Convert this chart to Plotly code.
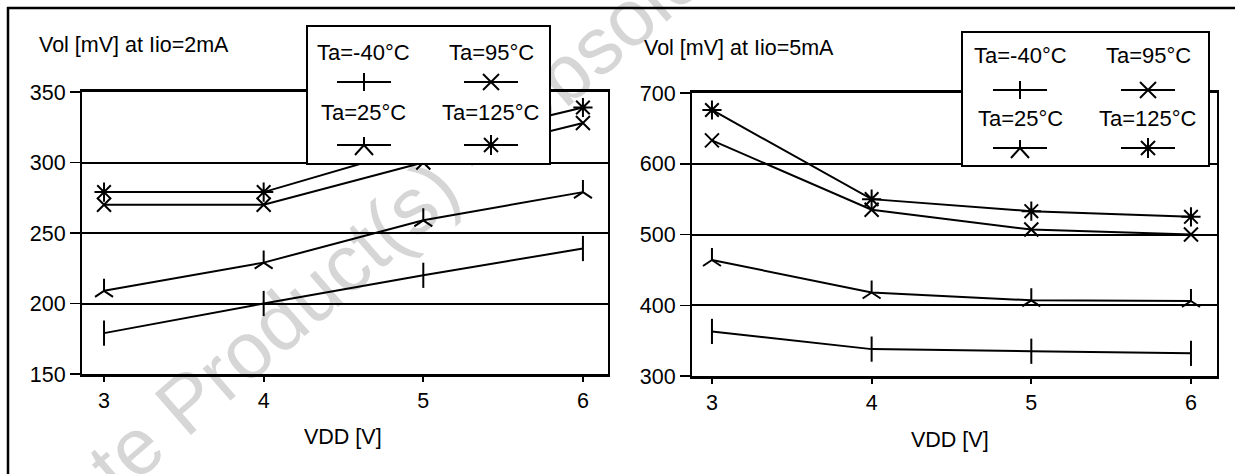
import plotly.graph_objects as go

W, H = 1235, 474

# ---------------- data ----------------
VDD = [3, 4, 5, 6]
temp_labels = ["Ta=-40°C", "Ta=25°C", "Ta=95°C", "Ta=125°C"]

vol_2mA_m40 = [179, 200, 220, 239]
vol_2mA_25 = [209, 229, 259, 279]
vol_2mA_95 = [270, 270, 300, 328]
vol_2mA_125 = [279, 279, 312, 339]

vol_5mA_m40 = [363, 338, 335, 332]
vol_5mA_25 = [464, 418, 407, 406]
vol_5mA_95 = [633, 535, 507, 500]
vol_5mA_125 = [676, 550, 533, 525]

yticks_2mA = [150, 200, 250, 300, 350]
yticks_5mA = [300, 400, 500, 600, 700]

# ---------------- styling ----------------
FONT = "Liberation Sans, Arial, sans-serif"
symbols = ["line-ns-open", "y-up-open", "x-thin-open", "asterisk-open"]
msizes = [18, 15, 14, 16]


def PX(x):
    return x / W


def PY(y):
    return 1 - y / H


fig = go.Figure()

left_series = [vol_2mA_m40, vol_2mA_25, vol_2mA_95, vol_2mA_125]
right_series = [vol_5mA_m40, vol_5mA_25, vol_5mA_95, vol_5mA_125]

for series, xa, ya in [(left_series, "x", "y"), (right_series, "x2", "y2")]:
    for i, vals in enumerate(series):
        fig.add_trace(go.Scatter(
            x=VDD, y=vals, xaxis=xa, yaxis=ya, mode="lines+markers",
            name=temp_labels[i], showlegend=False, hoverinfo="skip",
            line=dict(color="black", width=2),
            marker=dict(symbol=symbols[i], size=msizes[i], color="black",
                        line=dict(color="black", width=2)),
        ))

xcommon = dict(tickvals=VDD, ticks="outside", ticklen=5, tickwidth=2, tickcolor="black",
               showline=True, linecolor="black", linewidth=3, mirror=True,
               showgrid=False, zeroline=False, automargin=False,
               tickfont=dict(family=FONT, size=21.5, color="black"), ticklabelstandoff=0)
ycommon = dict(ticks="outside", ticklen=10, tickwidth=1.5, tickcolor="black",
               showline=True, linecolor="black", linewidth=2, mirror=True,
               showgrid=True, gridcolor="black", gridwidth=2, zeroline=False, automargin=False,
               tickfont=dict(family=FONT, size=21.5, color="black"), ticklabelstandoff=0)

fig.update_layout(
    template="none",
    width=W, height=H,
    margin=dict(l=0, r=0, t=0, b=0, pad=0, autoexpand=False),
    paper_bgcolor="white", plot_bgcolor="rgba(0,0,0,0)",
    showlegend=False,
    xaxis=dict(domain=[PX(82), PX(608)], range=[2.862, 6.157], anchor="y", **xcommon),
    yaxis=dict(domain=[PY(374), PY(92)], range=[150, 350], tickvals=yticks_2mA, anchor="x", **ycommon),
    xaxis2=dict(domain=[PX(692), PX(1217)], range=[2.875, 6.163], anchor="y2", **xcommon),
    yaxis2=dict(domain=[PY(376), PY(93)], range=[300, 700], tickvals=yticks_5mA, anchor="x2", **ycommon),
)

shapes = []
annotations = []

# watermark behind everything
shapes.append(dict(type="line", xref="paper", yref="paper",
                   x0=PX(463), y0=PY(152), x1=PX(473), y1=PY(142),
                   line=dict(color="rgba(0,0,0,0)", width=0), layer="below",
                   label=dict(text="Obsolete Product(s) - Obsolete Product(s)",
                              textangle=-41, textposition="middle",
                              xanchor="center", yanchor="middle",
                              font=dict(family=FONT, size=80, color="#d6d6d6"))))

# outer frame
shapes.append(dict(type="line", xref="paper", yref="paper", x0=PX(7), y0=PY(8), x1=1, y1=PY(8),
                   line=dict(color="black", width=2.5), layer="above"))
shapes.append(dict(type="line", xref="paper", yref="paper", x0=PX(8), y0=PY(7), x1=PX(8), y1=0,
                   line=dict(color="black", width=2.5), layer="above"))

TXT = 22
# titles
annotations.append(dict(text="Vol [mV] at Iio=2mA", x=PX(37), y=PY(45), xref="paper", yref="paper",
                        xanchor="left", yanchor="middle", showarrow=False,
                        font=dict(family=FONT, size=21.5, color="black")))
annotations.append(dict(text="Vol [mV] at Iio=5mA", x=PX(642), y=PY(48), xref="paper", yref="paper",
                        xanchor="left", yanchor="middle", showarrow=False,
                        font=dict(family=FONT, size=21.5, color="black")))
annotations.append(dict(text="VDD [V]", x=PX(343), y=PY(437), xref="paper", yref="paper",
                        xanchor="center", yanchor="middle", showarrow=False,
                        font=dict(family=FONT, size=21.5, color="black")))
annotations.append(dict(text="VDD [V]", x=PX(950), y=PY(440), xref="paper", yref="paper",
                        xanchor="center", yanchor="middle", showarrow=False,
                        font=dict(family=FONT, size=21.5, color="black")))


def seg(x0, y0, x1, y1, w=2):
    return dict(type="line", xref="paper", yref="paper", x0=PX(x0), y0=PY(y0), x1=PX(x1), y1=PY(y1),
                line=dict(color="black", width=w), layer="above")


def glyph(cx, cy, kind):
    out = [seg(cx - 27, cy, cx + 27, cy)]
    if kind == 0:
        out.append(seg(cx, cy - 9, cx, cy + 9))
    elif kind == 1:
        out.append(seg(cx, cy, cx, cy - 8))
        out.append(seg(cx, cy, cx - 9, cy + 10))
        out.append(seg(cx, cy, cx + 9, cy + 10))
    elif kind == 2:
        out.append(seg(cx - 8, cy - 8, cx + 8, cy + 8))
        out.append(seg(cx - 8, cy + 8, cx + 8, cy - 8))
    else:
        out.append(seg(cx - 7, cy - 7, cx + 7, cy + 7))
        out.append(seg(cx - 7, cy + 7, cx + 7, cy - 7))
        out.append(seg(cx, cy - 10, cx, cy + 10))
    return out


def legend_box(x0, y0, x1, y1, cols, rows_text, rows_glyph):
    shapes.append(dict(type="rect", xref="paper", yref="paper", x0=PX(x0), y0=PY(y0), x1=PX(x1), y1=PY(y1),
                       fillcolor="white", line=dict(color="black", width=2), layer="above"))
    order = [[0, 2], [1, 3]]
    for r in range(2):
        for c in range(2):
            k = order[r][c]
            annotations.append(dict(text=temp_labels[k], x=PX(cols[c]), y=PY(rows_text[r]),
                                    xref="paper", yref="paper", xanchor="center", yanchor="middle",
                                    showarrow=False, font=dict(family=FONT, size=TXT, color="black")))
            shapes.extend(glyph(cols[c], rows_glyph[r], k))


legend_box(307, 26, 550, 164, [364, 491], [52, 113], [82, 145])
legend_box(962, 32, 1209, 166, [1020, 1148], [55, 118], [90, 148])

fig.update_layout(shapes=shapes, annotations=annotations)

fig.write_html("out.html",
               config={"displayModeBar": False, "staticPlot": True},
               post_script="document.body.style.margin='0';document.body.style.padding='0';"
                           "document.body.style.overflow='hidden';")
